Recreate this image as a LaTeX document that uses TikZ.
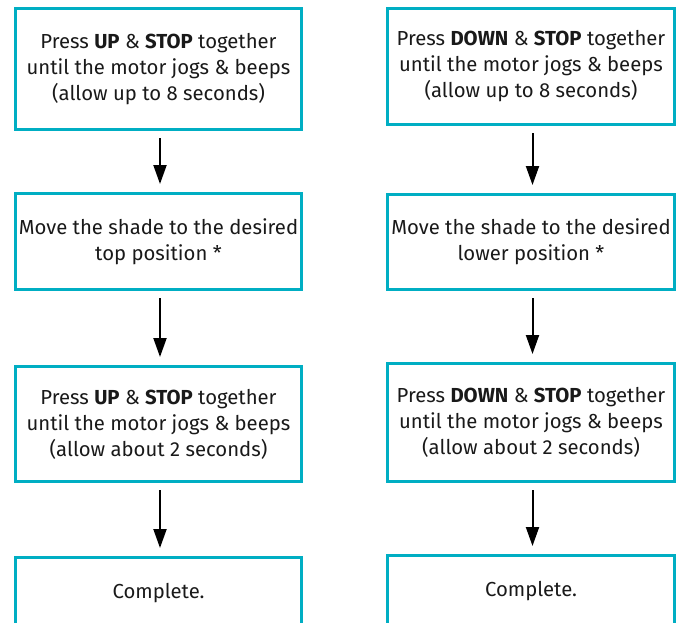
\documentclass[tikz,border=0pt]{standalone}
\usepackage{fontspec}
\setmainfont{Fira Sans}
\usetikzlibrary{arrows.meta}
\definecolor{boxteal}{HTML}{00AEC3}
\tikzset{
  stepbox/.style={draw=boxteal, line width=3pt, align=center, inner sep=0pt,
    font=\fontsize{20.3}{26}\selectfont, text=black!90},
  arr/.style={line width=2pt, -{Triangle[width=13pt,length=19pt]}},
}
\begin{document}
\begin{tikzpicture}[x=1pt,y=-1pt]
\useasboundingbox (0,0) rectangle (688,622);
% left column
\node[stepbox, minimum width=286pt, minimum height=121pt] (L1) at (158.5,69)
  {Press \textbf{UP} \& \textbf{STOP} together\\until the motor jogs \& beeps\\(allow up to 8 seconds)};
\node[stepbox, minimum width=286pt, minimum height=96pt] (L2) at (158.5,241.5)
  {Move the shade to the desired\\top position *};
\node[stepbox, minimum width=286pt, minimum height=115pt] (L3) at (158.5,424)
  {Press \textbf{UP} \& \textbf{STOP} together\\until the motor jogs \& beeps\\(allow about 2 seconds)};
\node[stepbox, minimum width=286pt, minimum height=72pt] (L4) at (158.5,593.5)
  {Complete.};
% right column
\node[stepbox, minimum width=287pt, minimum height=116pt] (R1) at (531,66.5)
  {Press \textbf{DOWN} \& \textbf{STOP} together\\until the motor jogs \& beeps\\(allow up to 8 seconds)};
\node[stepbox, minimum width=287pt, minimum height=95pt] (R2) at (531,242)
  {Move the shade to the desired\\lower position *};
\node[stepbox, minimum width=287pt, minimum height=118pt] (R3) at (531,422.5)
  {Press \textbf{DOWN} \& \textbf{STOP} together\\until the motor jogs \& beeps\\(allow about 2 seconds)};
\node[stepbox, minimum width=287pt, minimum height=72pt] (R4) at (531,591.5)
  {Complete.};
% arrows
\foreach \a/\b in {L1/L2,L2/L3,L3/L4,R1/R2,R2/R3,R3/R4}{
  \draw[arr, shorten <=7pt, shorten >=8pt] ([xshift=1.5pt]\a.south) -- ([xshift=1.5pt]\b.north);
}
\end{tikzpicture}
\end{document}
